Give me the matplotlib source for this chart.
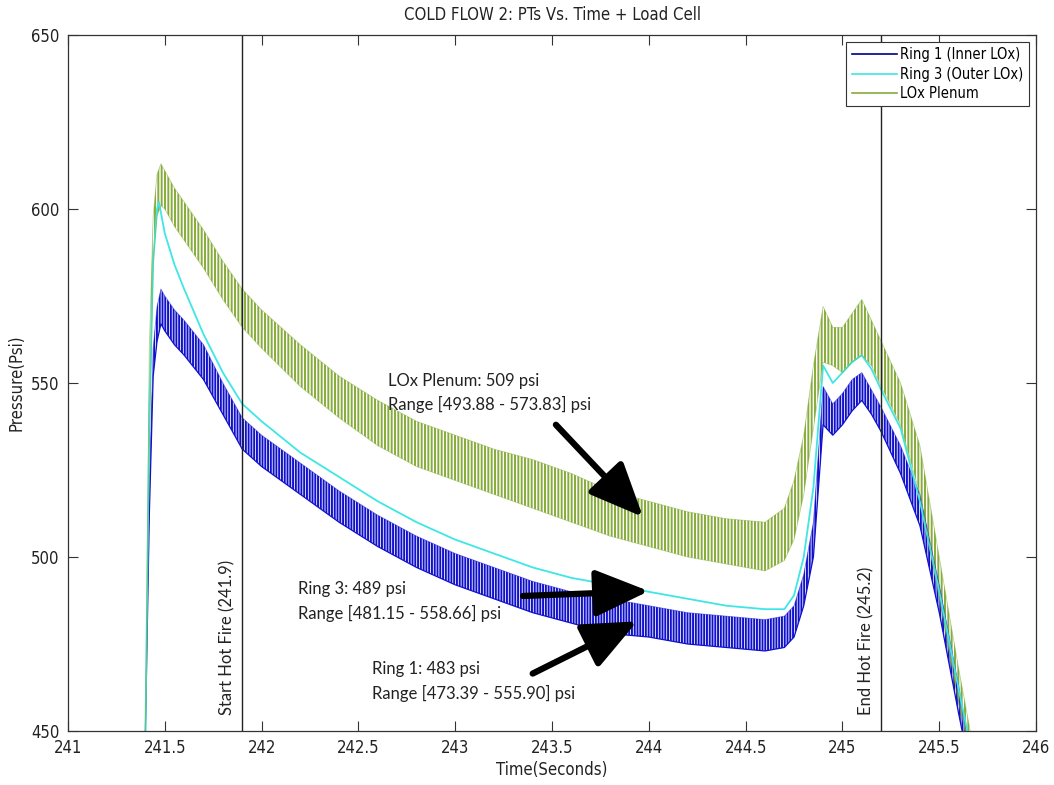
import matplotlib
matplotlib.use("Agg")
import matplotlib.pyplot as plt
import numpy as np

# pressure traces, cold flow 2 (psi vs seconds)
# the injector PTs ring hard, so ring 1 and the plenum are kept as an
# upper / lower envelope of the oscillation
t_ring1 = [241.40, 241.42, 241.44, 241.46, 241.48, 241.50, 241.55, 241.60,
           241.70, 241.80, 241.90, 242.00, 242.20, 242.40, 242.60, 242.80,
           243.00, 243.20, 243.40, 243.60, 243.80, 244.00, 244.20, 244.40,
           244.60, 244.70, 244.75, 244.80, 244.85, 244.90, 244.95, 245.00,
           245.05, 245.10, 245.15, 245.20, 245.30, 245.40, 245.50, 245.60,
           245.64]
ring1_hi = [450, 520, 560, 572, 577, 575, 571, 568, 561, 550, 540, 535,
            527, 519, 512, 506, 501, 497, 493, 490, 488, 486, 484, 483,
            482, 483, 486, 495, 510, 549, 544, 547, 551, 553, 548, 543,
            532, 518, 492, 463, 450]
ring1_lo = [450, 512, 552, 562, 567, 565, 561, 558, 551, 541, 531, 526,
            518, 510, 503, 497, 492, 488, 484, 481, 478, 477, 475, 474,
            473, 474, 477, 486, 500, 538, 535, 538, 542, 545, 541, 536,
            524, 509, 484, 455, 444]

t_ring3 = [241.40, 241.42, 241.44, 241.46, 241.47, 241.50, 241.55, 241.60,
           241.70, 241.80, 241.90, 242.00, 242.20, 242.40, 242.60, 242.80,
           243.00, 243.20, 243.40, 243.60, 243.80, 244.00, 244.20, 244.40,
           244.60, 244.70, 244.75, 244.80, 244.85, 244.90, 244.95, 245.00,
           245.05, 245.10, 245.15, 245.20, 245.30, 245.40, 245.50, 245.60,
           245.645]
ring3 = [450, 540, 585, 600, 602, 593, 584, 577, 564, 553, 544, 539,
         530, 523, 516, 510, 505, 501, 497, 494, 492, 490, 488, 486,
         485, 485, 489, 500, 520, 555, 550, 553, 556, 558, 554, 548,
         537, 516, 490, 462, 450]

t_plenum = [241.40, 241.42, 241.44, 241.46, 241.48, 241.50, 241.55, 241.60,
            241.70, 241.80, 241.90, 242.00, 242.20, 242.40, 242.60, 242.80,
            243.00, 243.20, 243.40, 243.60, 243.80, 244.00, 244.20, 244.40,
            244.60, 244.70, 244.75, 244.80, 244.85, 244.90, 244.95, 245.00,
            245.05, 245.10, 245.15, 245.20, 245.30, 245.40, 245.50, 245.60,
            245.66]
plenum_hi = [450, 560, 598, 610, 613, 611, 606, 602, 594, 585, 577, 571,
             561, 552, 545, 539, 535, 531, 528, 524, 519, 516, 513, 511,
             510, 514, 522, 535, 555, 572, 566, 566, 570, 574, 568, 562,
             550, 532, 500, 468, 450]
plenum_lo = [450, 530, 585, 598, 601, 600, 595, 591, 583, 574, 566, 560,
             549, 540, 532, 526, 522, 518, 514, 510, 506, 503, 500, 498,
             496, 499, 505, 518, 537, 556, 555, 553, 556, 558, 555, 549,
             538, 518, 488, 458, 444]

hot_fire = [241.9, 245.2]

c_ring1 = "#1010cc"
c_ring1_key = "#00007f"
c_ring3 = "#3ee6e6"
c_plenum = "#86ac3a"

plt.rcParams["font.family"] = ["DejaVu Sans"]
plt.rcParams["font.stretch"] = "condensed"
plt.rcParams["hatch.linewidth"] = 1.4

fig = plt.figure(figsize=(10.54, 7.85), dpi=100)
ax = fig.add_axes([0.0645, 0.0688, 0.9185, 0.8866])

# ring 1
ax.fill_between(t_ring1, ring1_lo, ring1_hi, facecolor="none", edgecolor=c_ring1,
                hatch="||||||", linewidth=0)
ax.plot(t_ring1, ring1_lo, color=c_ring1, lw=0.9)
ax.plot(t_ring1, ring1_hi, color=c_ring1, lw=0.6, alpha=0.5)
# ring 3
ax.plot(t_ring3, ring3, color=c_ring3, lw=1.3)
# plenum
ax.fill_between(t_plenum, plenum_lo, plenum_hi, facecolor="none", edgecolor=c_plenum,
                hatch="|||||", linewidth=0)
ax.plot(t_plenum, plenum_lo, color=c_plenum, lw=0.6, alpha=0.5)
ax.plot(t_plenum, plenum_hi, color=c_plenum, lw=0.6, alpha=0.5)

# legend keys
ax.plot([], [], color=c_ring1_key, lw=1.2, label="Ring 1 (Inner LOx)")
ax.plot([], [], color=c_ring3, lw=1.2, label="Ring 3 (Outer LOx)")
ax.plot([], [], color=c_plenum, lw=1.2, label="LOx Plenum")

for t in hot_fire:
    ax.axvline(t, color="#222222", lw=1.0)

note_font = ["Lato", "DejaVu Sans"]
ax.text(241.9 - 0.035, 454.5, "Start Hot Fire (241.9)", rotation=90, ha="right",
        va="bottom", fontsize=12, family=note_font, stretch="normal", color="#222222")
ax.text(245.2 - 0.035, 454.5, "End Hot Fire (245.2)", rotation=90, ha="right",
        va="bottom", fontsize=12, family=note_font, stretch="normal", color="#222222")

ax.text(242.655, 553, "LOx Plenum: 509 psi\nRange [493.88 - 573.83] psi",
        ha="left", va="top", fontsize=12, family=note_font, stretch="normal",
        linespacing=1.55, color="#222222")
ax.text(242.19, 493, "Ring 3: 489 psi\nRange [481.15 - 558.66] psi",
        ha="left", va="top", fontsize=12, family=note_font, stretch="normal",
        linespacing=1.55, color="#222222")
ax.text(242.57, 470, "Ring 1: 483 psi\nRange [473.39 - 555.90] psi",
        ha="left", va="top", fontsize=12, family=note_font, stretch="normal",
        linespacing=1.55, color="#222222")

arrow = dict(arrowstyle="-|>,head_length=1.1,head_width=0.48", lw=4.5,
             color="black", mutation_scale=30, shrinkA=0, shrinkB=0)
ax.annotate("", xy=(243.97, 511.5), xytext=(243.52, 538), arrowprops=arrow)
ax.annotate("", xy=(244.0, 490.2), xytext=(243.35, 488.8), arrowprops=arrow)
ax.annotate("", xy=(243.94, 481.5), xytext=(243.40, 466.5), arrowprops=arrow)

ax.set_xlim(241, 246)
ax.set_ylim(450, 650)
ax.set_xticks(np.arange(241, 246.01, 0.5))
ax.set_xticklabels(["241", "241.5", "242", "242.5", "243", "243.5", "244",
                    "244.5", "245", "245.5", "246"])
ax.set_yticks([450, 500, 550, 600, 650])
ax.tick_params(direction="in", top=True, right=True, length=7, labelsize=12,
               color="#333333", labelcolor="#222222")
ax.tick_params(axis="x", pad=6)
ax.tick_params(axis="y", pad=6)
for s in ax.spines.values():
    s.set_color("#333333")
    s.set_linewidth(0.9)

ax.set_title("COLD FLOW 2: PTs Vs. Time + Load Cell", fontsize=12, color="#222222", pad=11)
ax.set_xlabel("Time(Seconds)", fontsize=12, color="#222222", labelpad=3)
ax.set_ylabel("Pressure(Psi)", fontsize=12, color="#222222", labelpad=4)

leg = ax.legend(loc="upper right", fontsize=10.5, handlelength=3.1, handletextpad=0.25,
                borderaxespad=0.5, fancybox=False, framealpha=1, labelspacing=0.3,
                borderpad=0.35)
leg.get_frame().set_edgecolor("#333333")
leg.get_frame().set_linewidth(0.8)

fig.savefig("out.png", dpi=100)
